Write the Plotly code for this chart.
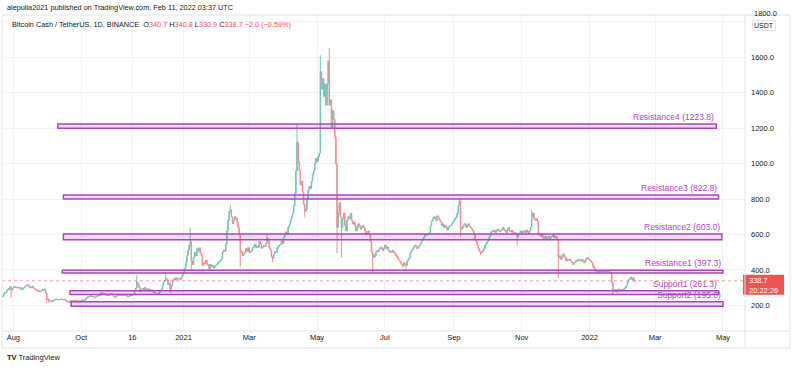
import plotly.graph_objects as go
import pandas as pd

# ---------------- data (daily BCH/USDT closes) ----------------
START = "2020-07-22"
FIRST_OPEN = 245.0

c_2020_a = [250, 262, 272, 270, 288, 286, 298]
c_2020_b = [305, 285, 296, 300, 306, 302, 298, 302, 296, 300, 288, 292, 298, 304, 310, 312, 316, 306, 298, 302,
            308, 296, 294, 290, 282, 284, 276, 280, 282, 290, 286]
c_2020_c = [292, 270, 232, 236, 220, 224, 226, 222, 228, 234, 232, 236, 230, 232, 234, 236, 232, 230, 234, 228,
            220, 222, 216, 226, 224, 228, 226, 225, 230, 228]
c_2020_d = [226, 220, 224, 228, 230, 222, 232, 238, 242, 248, 250, 254, 248, 250, 246, 244, 248, 252, 258, 254,
            266, 272, 262, 266, 262, 258, 264, 256, 260, 264, 266]
c_2020_e = [262, 250, 246, 248, 258, 264, 256, 262, 258, 256, 262, 258, 262, 252, 248, 252, 258, 256, 260, 264,
            282, 296, 330, 318, 300, 276, 284, 296, 290, 300]
c_2020_f = [284, 290, 294, 280, 286, 288, 280, 270, 272, 266, 262, 266, 272, 284, 290, 310, 332, 340, 352, 344,
            318, 326, 290, 312, 336, 350, 344, 356, 346, 352, 350]
c_2021_a = [346, 360, 372, 388, 410, 440, 480, 510, 540, 560, 450, 430, 470, 500, 480, 520, 505, 525, 495, 480,
            425, 440, 435, 455, 430, 432, 405, 430, 420, 425, 412]
c_2021_b = [418, 428, 432, 440, 446, 455, 462, 500, 512, 505, 545, 620, 680, 730, 740, 700, 660, 680, 700, 690,
            670, 640, 600, 500, 505, 480, 490, 500]
c_2021_c = [520, 505, 525, 498, 502, 508, 525, 532, 545, 525, 535, 528, 560, 545, 522, 530, 536, 532, 548, 580,
            562, 524, 512, 475, 465, 488, 502, 498, 522, 532, 540]
c_2021_d = [545, 565, 548, 585, 600, 615, 600, 640, 655, 680, 700, 720, 760, 830, 960, 1120, 1010, 960, 880, 900,
            840, 770, 730, 740, 800, 850, 870, 860, 900, 940]
c_2021_e = [960, 1000, 1030, 1010, 1040, 1060, 1520, 1420, 1480, 1380, 1450, 1330, 1450, 1580, 1330, 1360, 1200,
            1300, 1250, 1150, 1000, 640, 720, 780, 700, 640, 690, 720, 650, 620, 680]
c_2021_f = [700, 690, 720, 680, 660, 670, 650, 620, 640, 660, 650, 630, 640, 650, 640, 620, 600, 610, 620, 600,
            560, 500, 490, 470, 480, 500, 510, 505, 520, 530]
c_2021_g = [520, 510, 525, 540, 520, 530, 510, 500, 505, 500, 510, 500, 490, 480, 470, 460, 450, 440, 430, 420,
            440, 430, 425, 450, 460, 470, 500, 510, 520, 530, 540]
c_2021_h = [530, 520, 530, 540, 550, 565, 575, 585, 600, 595, 605, 600, 610, 650, 675, 690, 700, 690, 680, 705,
            695, 680, 670, 650, 660, 640, 650, 640, 625, 640, 650]
c_2021_i = [650, 660, 670, 680, 690, 700, 720, 760, 790, 640, 630, 645, 655, 660, 640, 650, 660, 645, 640, 630,
            620, 600, 570, 560, 540, 520, 505, 495, 500, 510]
c_2021_j = [520, 540, 550, 560, 575, 590, 610, 620, 615, 625, 610, 620, 630, 625, 615, 620, 630, 640, 625, 620,
            610, 630, 640, 620, 615, 625, 610, 600, 610, 605, 585]
c_2021_k = [600, 610, 620, 605, 615, 620, 610, 625, 615, 605, 620, 640, 700, 720, 690, 680, 690, 675, 600, 595,
            590, 600, 580, 575, 590, 570, 580, 590, 575, 585]
c_2021_l = [590, 600, 580, 590, 585, 570, 470, 480, 460, 470, 490, 480, 470, 450, 460, 455, 460, 450, 440, 430,
            440, 445, 455, 450, 460, 455, 450, 460, 445, 440, 455]
c_2022_a = [465, 470, 460, 455, 450, 440, 420, 410, 400, 390, 385, 390, 395, 392, 385, 392, 398, 390, 388, 395,
            390, 385, 382, 330, 285, 280, 290, 275, 285, 292, 288]
c_2022_b = [282, 290, 285, 295, 300, 310, 330, 345, 350, 360, 345, 355, 340.7, 338.7]

# notable wick extremes (date -> price)
wick_highs = {
    "2020-11-20": 370, "2020-12-16": 382, "2021-01-07": 635, "2021-02-12": 766, "2021-03-17": 608,
    "2021-04-13": 1220, "2021-05-04": 1612, "2021-05-12": 1652, "2021-09-06": 805, "2021-11-10": 737,
    "2022-02-11": 340.8,
}
wick_lows = {
    "2020-07-30": 245, "2020-08-31": 215, "2020-12-20": 268, "2021-01-08": 400, "2021-02-21": 415,
    "2021-03-22": 445, "2021-04-20": 697, "2021-05-19": 495, "2021-05-23": 470, "2021-06-20": 388,
    "2021-07-20": 398, "2021-09-07": 585, "2021-09-25": 483, "2021-10-28": 540, "2021-12-04": 355,
    "2022-01-22": 265, "2022-02-11": 330.9,
}

# horizontal zones
zone_names = ["Resistance4", "Resistance3", "Resistance2", "Resistance1", "Support1", "Support2"]
zone_levels = [1223.8, 822.8, 603.0, 397.3, 261.3, 195.0]
zone_edges = [1200, 800, 570, 382, 282, 220]
zone_start = ["2020-09-10", "2020-09-15", "2020-09-15", "2020-09-14", "2020-09-21", "2020-09-22"]
zone_end = ["2022-04-25", "2022-04-27", "2022-04-30", "2022-05-01", "2022-04-27", "2022-05-01"]

# axis ticks
x_tick_dates = ["2020-08-01", "2020-10-01", "2020-11-16", "2021-01-01", "2021-03-01", "2021-05-01",
                "2021-07-01", "2021-09-01", "2021-11-01", "2022-01-01", "2022-03-01", "2022-05-01"]
x_tick_text = ["Aug", "Oct", "16", "2021", "Mar", "May", "Jul", "Sep", "Nov", "2022", "Mar", "May"]
y_tick_vals = [200, 400, 600, 800, 1000, 1200, 1400, 1600]
y_top_label = 1800
x_range = ["2020-07-21 19:00", "2022-05-20 19:00"]
y_range = [55, 1839]

header_text = "alepulia2021 published on TradingView.com, Feb 11, 2022 03:37 UTC"
symbol_text = "Bitcoin Cash / TetherUS, 1D, BINANCE"
countdown = "20:22:26"

# ---------------- build ----------------
closes = (c_2020_a + c_2020_b + c_2020_c + c_2020_d + c_2020_e + c_2020_f + c_2021_a + c_2021_b + c_2021_c
          + c_2021_d + c_2021_e + c_2021_f + c_2021_g + c_2021_h + c_2021_i + c_2021_j + c_2021_k + c_2021_l
          + c_2022_a + c_2022_b)
dates = pd.date_range(START, periods=len(closes), freq="D")
opens = [FIRST_OPEN] + closes[:-1]
keys = [d.strftime("%Y-%m-%d") for d in dates]
highs = [max(o, c, wick_highs.get(k, 0)) for o, c, k in zip(opens, closes, keys)]
lows = [min(o, c, wick_lows.get(k, 1e9)) for o, c, k in zip(opens, closes, keys)]

UP = "#26a69a"
DOWN = "#ef5350"
PURPLE = "#ab47bc"
GRID = "#f0f3fa"
FRAME = "#e0e3eb"
TXT = "#131722"
FONT = "Liberation Sans, Arial, sans-serif"

fig = go.Figure()
fig.add_trace(go.Candlestick(
    x=dates, open=opens, high=highs, low=lows, close=closes,
    increasing=dict(line=dict(color=UP, width=1), fillcolor=UP),
    decreasing=dict(line=dict(color=DOWN, width=1), fillcolor=DOWN),
    whiskerwidth=0, opacity=0.65, showlegend=False, hoverinfo="skip",
))

W, H = 792, 370
ML, MR, MT, MB = 2, 47, 15, 39
PW, PH = W - ML - MR, H - MT - MB


def px(xp):
    return (xp - ML) / PW


def py(yp):
    return (H - MB - yp) / PH


shapes = []
annotations = []

# zones
for name, lvl, edge, s, e in zip(zone_names, zone_levels, zone_edges, zone_start, zone_end):
    shapes.append(dict(type="rect", xref="x", yref="y", x0=s, x1=e, y0=min(lvl, edge), y1=max(lvl, edge),
                       line=dict(color=PURPLE, width=1.5), fillcolor="rgba(171,71,188,0.2)", layer="above"))
    annotations.append(dict(x=e, y=max(lvl, edge), xref="x", yref="y", xanchor="right", yanchor="bottom",
                            text=f"{name} ({lvl:.1f})", showarrow=False,
                            font=dict(family=FONT, size=8.5, color=PURPLE)))

last_close = closes[-1]
last_open = opens[-1]
chg = last_close - last_open
pct = chg / last_open * 100

# last price dotted line
shapes.append(dict(type="line", xref="paper", yref="y", x0=0, x1=1, y0=last_close, y1=last_close,
                   line=dict(color="rgba(239,83,80,0.55)", width=1, dash="dot"), layer="above"))
# price label box on axis
shapes.append(dict(type="rect", xref="paper", yref="y", x0=px(743), x1=px(784),
                   ysizemode="pixel", yanchor=last_close, y0=-14, y1=6,
                   fillcolor=DOWN, line=dict(width=0), layer="above"))
annotations.append(dict(x=px(747), y=last_close, xref="paper", yref="y", xanchor="left", yanchor="middle",
                        text=f"{last_close:.1f}", showarrow=False, yshift=0,
                        font=dict(family=FONT, size=7.5, color="white")))
annotations.append(dict(x=px(747), y=last_close, xref="paper", yref="y", xanchor="left", yanchor="middle",
                        text=countdown, showarrow=False, yshift=-10,
                        font=dict(family=FONT, size=7.5, color="white")))

# frame lines
shapes.append(dict(type="rect", xref="paper", yref="paper", x0=px(2), x1=px(790), y0=py(348), y1=py(15),
                   line=dict(color=FRAME, width=1), layer="above"))
shapes.append(dict(type="line", xref="paper", yref="paper", x0=px(2), x1=px(790), y0=0, y1=0,
                   line=dict(color=FRAME, width=1), layer="above"))
shapes.append(dict(type="line", xref="paper", yref="paper", x0=1, x1=1, y0=py(348), y1=py(15),
                   line=dict(color=FRAME, width=1), layer="above"))

# header / legend
annotations.append(dict(x=px(5), y=py(7), xref="paper", yref="paper", xanchor="left", yanchor="middle",
                        text=header_text, showarrow=False, font=dict(family=FONT, size=7.3, color=TXT)))
val = lambda v: f"<span style='color:{DOWN}'>{v}</span>"
legend_txt = (f"{symbol_text}  O{val(f'{last_open:.1f}')} H{val(f'{highs[-1]:.1f}')} "
              f"L{val(f'{lows[-1]:.1f}')} C{val(f'{last_close:.1f}')} "
              f"{val(f'−{abs(chg):.1f} (−{abs(pct):.2f}%)')}")
annotations.append(dict(x=px(10), y=py(25), xref="paper", yref="paper", xanchor="left", yanchor="middle",
                        text=legend_txt, showarrow=False, font=dict(family=FONT, size=7.3, color=TXT)))
# top price label (partly tucked at the frame edge) and currency box
annotations.append(dict(x=px(752), y=py(14), xref="paper", yref="paper", xanchor="left", yanchor="middle",
                        text=f"{y_top_label:.1f}", showarrow=False,
                        font=dict(family=FONT, size=7.5, color=TXT)))
annotations.append(dict(x=px(764), y=py(26), xref="paper", yref="paper", xanchor="center", yanchor="middle",
                        text="USDT", showarrow=False, bgcolor="white", bordercolor=FRAME, borderwidth=1,
                        borderpad=1, font=dict(family=FONT, size=7, color=TXT)))
# logo
annotations.append(dict(x=px(5), y=py(357), xref="paper", yref="paper", xanchor="left", yanchor="middle",
                        text="<b>TV</b> TradingView", showarrow=False,
                        font=dict(family=FONT, size=7.5, color=TXT)))

fig.update_layout(
    width=W, height=H, margin=dict(l=ML, r=MR, t=MT, b=MB, autoexpand=False),
    paper_bgcolor="white", plot_bgcolor="white",
    shapes=shapes, annotations=annotations,
    xaxis=dict(type="date", range=x_range, tickvals=x_tick_dates, ticktext=x_tick_text,
               showgrid=True, gridcolor=GRID, gridwidth=1, zeroline=False, showline=False, ticks="",
               tickfont=dict(family=FONT, size=7.5, color=TXT), rangeslider=dict(visible=False),
               automargin=False, fixedrange=True),
    yaxis=dict(side="right", range=y_range, tickvals=y_tick_vals + [y_top_label], tickformat=".1f",
               showticklabels=True, showgrid=True, gridcolor=GRID, gridwidth=1, zeroline=False,
               showline=False, ticks="", tickfont=dict(family=FONT, size=7.5, color=TXT),
               ticklabelstandoff=5, automargin=False, fixedrange=True,
               ticktext=[f"{v:.1f}" for v in y_tick_vals] + [""]),
    font=dict(family=FONT),
)

fig.write_html("out.html", config={"displayModeBar": False, "staticPlot": True},
               post_script="document.body.style.margin='0px';document.body.style.overflow='hidden';")
